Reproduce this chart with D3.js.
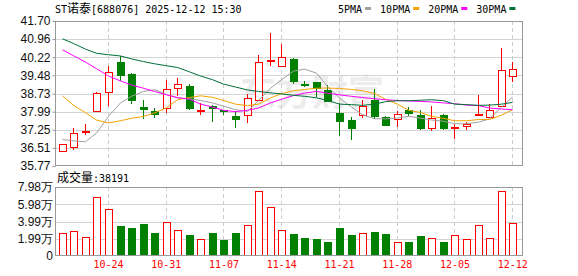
<!DOCTYPE html>
<html>
<head>
<meta charset="utf-8">
<script src="https://cdn.jsdelivr.net/npm/d3@7"></script>
<style>
  body { margin: 0; background: #fff; }
  svg { display: block; }
</style>
</head>
<body>
<script>
// data
const dates = ["10-20","10-21","10-22","10-23","10-24","10-27","10-28","10-29","10-30","10-31",
  "11-03","11-04","11-05","11-06","11-07","11-10","11-11","11-12","11-13","11-14",
  "11-17","11-18","11-19","11-20","11-21","11-24","11-25","11-26","11-27","11-28",
  "12-01","12-02","12-03","12-04","12-05","12-08","12-09","12-10","12-11","12-12"]
const opens = [36.40,36.54,37.16,38.03,38.78,40.02,39.54,38.18,38.03,38.14,
  38.96,39.05,38.03,38.24,38.06,37.83,37.84,38.45,40.05,39.87,
  40.14,39.14,39.19,38.89,37.94,37.67,37.84,38.48,37.78,37.69,
  38.07,37.87,37.33,37.87,37.33,37.39,37.89,37.78,38.21,39.46]
const highs = [36.69,37.33,37.49,38.78,39.84,40.25,39.56,38.45,38.14,39.30,
  39.36,39.13,38.35,38.26,38.08,38.00,38.73,40.31,41.22,40.76,
  40.20,39.23,39.20,39.09,38.35,37.78,38.48,38.92,37.83,38.00,
  38.18,38.05,38.24,37.91,37.50,37.56,38.68,38.31,40.59,40.02]
const lows = [36.33,36.44,37.03,38.00,38.24,39.23,38.30,37.69,37.72,37.94,
  38.62,38.05,37.84,37.56,37.84,37.31,37.53,38.45,39.84,39.87,
  39.13,39.02,38.59,38.42,37.01,36.82,37.72,37.69,37.42,37.35,
  37.80,37.26,37.19,37.26,36.88,37.23,37.84,37.72,38.21,39.19]
const closes = [36.65,37.12,37.22,38.75,39.63,39.50,38.45,38.11,37.90,38.92,
  39.12,38.14,38.06,38.14,38.00,37.71,38.55,40.02,40.10,40.22,
  39.26,39.10,38.96,38.44,37.60,37.31,38.22,37.83,37.46,37.90,
  37.94,37.33,37.73,37.33,37.37,37.49,37.91,38.07,39.70,39.73]
const volumes = [26250,28560,21970,67890,54360,34700,32730,37010,26600,38970,
  29720,24290,19660,26250,18500,26600,35500,74830,56320,29720,
  25440,20820,19660,16190,32380,24290,26250,27760,25440,15840,
  16190,23130,20820,16190,23940,19310,35500,20470,74830,38191]

const ma5 = [36.85,36.80,36.76,37.12,37.80,38.35,38.62,38.82,38.89,38.70,
  38.55,38.52,38.45,38.35,38.22,38.07,38.00,38.45,38.95,39.30,
  39.65,39.73,39.57,39.02,38.55,38.18,37.87,37.70,37.70,37.73,
  37.80,37.73,37.65,37.60,37.50,37.50,37.56,37.70,38.18,38.59]
const ma10 = [38.64,38.25,37.95,37.65,37.53,37.62,37.72,37.80,37.94,38.15,
  38.48,38.57,38.64,38.58,38.45,38.30,38.24,38.30,38.55,38.73,
  38.85,38.90,38.95,38.96,38.94,38.90,38.85,38.73,38.50,38.30,
  38.05,37.96,37.80,37.72,37.62,37.62,37.67,37.67,37.85,38.07]
const ma20 = [40.52,40.28,40.02,39.75,39.45,39.25,39.08,38.95,38.82,38.68,
  38.57,38.50,38.30,38.18,38.05,37.99,38.05,38.14,38.35,38.50,
  38.65,38.75,38.82,38.75,38.68,38.62,38.57,38.52,38.48,38.45,
  38.43,38.41,38.39,38.35,38.32,38.26,38.24,38.14,38.10,38.07]
const ma30 = [40.97,40.78,40.55,40.38,40.32,40.27,40.15,40.04,39.95,39.87,
  39.80,39.62,39.45,39.30,39.12,39.00,38.88,38.82,38.76,38.72,
  38.66,38.62,38.56,38.45,38.30,38.28,38.25,38.30,38.40,38.44,
  38.44,38.46,38.48,38.44,38.30,38.28,38.25,38.26,38.30,38.37]

const priceTicks = [35.77, 36.51, 37.25, 37.99, 38.73, 39.48, 40.22, 40.96, 41.70]
const volTicks = [0, 19950, 39900, 59850, 79800]
const volTickLabels = ["0", "1.99万", "3.99万", "5.98万", "7.98万"]
const dateLabels = ["10-24", "10-31", "11-07", "11-14", "11-21", "11-28", "12-05", "12-12"]
const maNames = ["5PMA", "10PMA", "20PMA", "30PMA"]
const maColors = ["#a0a0a0", "#f5a300", "#ff00ff", "#00703a"]

const w = 578, h = 276
const left = 55, right = 522
const up = "#ff0000", down = "#008000"
const mono = "'DejaVu Sans Mono', monospace"
const cjk = "'Noto Sans CJK SC', sans-serif"

const svg = d3.select("body").append("svg")
  .attr("width", w).attr("height", h)

const x = d3.scaleBand().domain(dates).range([56, 518])
const cx = d => Math.round(x(d) + x.bandwidth() / 2)
const y = d3.scaleLinear().domain([35.77, 41.70]).range([166, 21])
const v = d3.scaleLinear().domain([0, 79800]).range([256, 187])

const candles = dates.map((d, i) => ({
  date: d, open: opens[i], high: highs[i], low: lows[i], close: closes[i], vol: volumes[i]
}))

// watermark
svg.append("text")
  .attr("x", 240).attr("y", 106)
  .attr("font-family", cjk).attr("font-weight", "bold").attr("font-size", 36)
  .attr("fill", "#ececec")
  .text("东方财富")

// grid lines
svg.append("g").selectAll("line")
  .data(priceTicks.slice(1, -1))
  .join("line")
  .attr("x1", left).attr("x2", right)
  .attr("y1", d => Math.round(y(d)) + 0.5).attr("y2", d => Math.round(y(d)) + 0.5)
  .attr("stroke", "#d4d4d4")

svg.append("g").selectAll("line")
  .data(volTicks.slice(1, -1))
  .join("line")
  .attr("x1", left).attr("x2", right)
  .attr("y1", d => Math.round(v(d)) + 0.5).attr("y2", d => Math.round(v(d)) + 0.5)
  .attr("stroke", "#d4d4d4")

const vGrid = svg.append("g")
dateLabels.forEach(d => {
  [[21, 166], [187, 256]].forEach(r => {
    vGrid.append("line")
      .attr("x1", cx(d) + 0.5).attr("x2", cx(d) + 0.5)
      .attr("y1", r[0]).attr("y2", r[1])
      .attr("stroke", "#cccccc")
      .attr("stroke-dasharray", "4,3")
  })
})

// candles
const cg = svg.append("g").attr("shape-rendering", "crispEdges")
candles.forEach(c => {
  const col = c.close >= c.open ? up : down
  const px = cx(c.date)
  cg.append("line")
    .attr("x1", px + 0.5).attr("x2", px + 0.5)
    .attr("y1", y(c.high)).attr("y2", y(c.low))
    .attr("stroke", col)
  const top = Math.round(y(Math.max(c.open, c.close)))
  const bh = Math.max(1, Math.round(y(Math.min(c.open, c.close))) - top)
  if (c.close >= c.open) {
    cg.append("rect")
      .attr("x", px - 3 + 0.5).attr("y", top + 0.5)
      .attr("width", 7).attr("height", bh)
      .attr("fill", "#fff").attr("stroke", up)
  } else {
    cg.append("rect")
      .attr("x", px - 3).attr("y", top)
      .attr("width", 8).attr("height", bh + 1)
      .attr("fill", down)
  }
})

// moving averages
const mas = [ma5, ma10, ma20, ma30]
const line = d3.line()
  .x((d, i) => cx(dates[i]) + 0.5)
  .y(d => y(d))
mas.forEach((m, k) => {
  svg.append("path")
    .attr("d", line(m))
    .attr("fill", "none")
    .attr("stroke", maColors[k])
    .attr("stroke-width", 1)
})

// volume bars
const vg = svg.append("g").attr("shape-rendering", "crispEdges")
candles.forEach(c => {
  const px = cx(c.date)
  const top = Math.round(v(c.vol))
  if (c.close >= c.open) {
    vg.append("rect")
      .attr("x", px - 3 + 0.5).attr("y", top + 0.5)
      .attr("width", 7).attr("height", Math.round(v(0)) - top - 1)
      .attr("fill", "#fff").attr("stroke", up)
  } else {
    vg.append("rect")
      .attr("x", px - 3).attr("y", top)
      .attr("width", 8).attr("height", Math.round(v(0)) - top)
      .attr("fill", down)
  }
})

// frames
svg.append("rect")
  .attr("x", left + 0.5).attr("y", 21.5)
  .attr("width", right - left).attr("height", 144)
  .attr("fill", "none").attr("stroke", "#999")
svg.append("rect")
  .attr("x", left + 0.5).attr("y", 187.5)
  .attr("width", right - left).attr("height", 68)
  .attr("fill", "none").attr("stroke", "#999")

// axes
const yAxis = d3.axisLeft(y).tickValues(priceTicks).tickSize(3).tickPadding(2)
  .tickFormat(d3.format(".2f"))
const ya = svg.append("g").attr("transform", "translate(" + (left + 0.5) + ",0)").call(yAxis)
ya.select(".domain").remove()
ya.selectAll("line").attr("stroke", "#999")
ya.selectAll("text").attr("font-family", "'Liberation Sans', Arial, sans-serif")
  .attr("font-size", 12).attr("fill", "#111")

const vAxis = d3.axisLeft(v).tickValues(volTicks).tickSize(0).tickPadding(2)
  .tickFormat((d, i) => volTickLabels[i])
const va = svg.append("g").attr("transform", "translate(" + left + ",0)").call(vAxis)
va.select(".domain").remove()
va.selectAll("text").attr("font-family", "'Liberation Sans', Arial, sans-serif")
  .attr("font-size", 12).attr("fill", "#111")

const xAxis = d3.axisBottom(x).tickValues(dateLabels).tickSize(0).tickPadding(5)
const xa = svg.append("g").attr("transform", "translate(0.5,256)").call(xAxis)
xa.select(".domain").remove()
xa.selectAll("text").attr("font-family", mono).attr("font-size", 10).attr("fill", up)

// title
const title = svg.append("text").attr("x", 55).attr("y", 12.5)
  .attr("font-family", mono).attr("font-size", 10).attr("fill", "#000")
title.append("tspan").text("ST")
title.append("tspan").attr("font-family", cjk).attr("font-size", 12).text("诺泰")
title.append("tspan").text("[688076] 2025-12-12 15:30")

// legend
let lx = 338
maNames.forEach((n, k) => {
  const t = svg.append("text").attr("x", lx).attr("y", 12.5)
    .attr("font-family", mono).attr("font-size", 10).attr("fill", "#000")
    .text(n)
  lx += t.node().getComputedTextLength() + 3
  svg.append("rect").attr("x", lx).attr("y", 7).attr("width", 6).attr("height", 3)
    .attr("fill", maColors[k])
  lx += 6 + 9
})

// volume title
const vt = svg.append("text").attr("x", 57).attr("y", 182)
  .attr("font-family", mono).attr("font-size", 10).attr("fill", "#000")
vt.append("tspan").attr("font-family", cjk).attr("font-size", 12).text("成交量")
vt.append("tspan").text(":" + volumes[volumes.length - 1])
</script>
</body>
</html>
